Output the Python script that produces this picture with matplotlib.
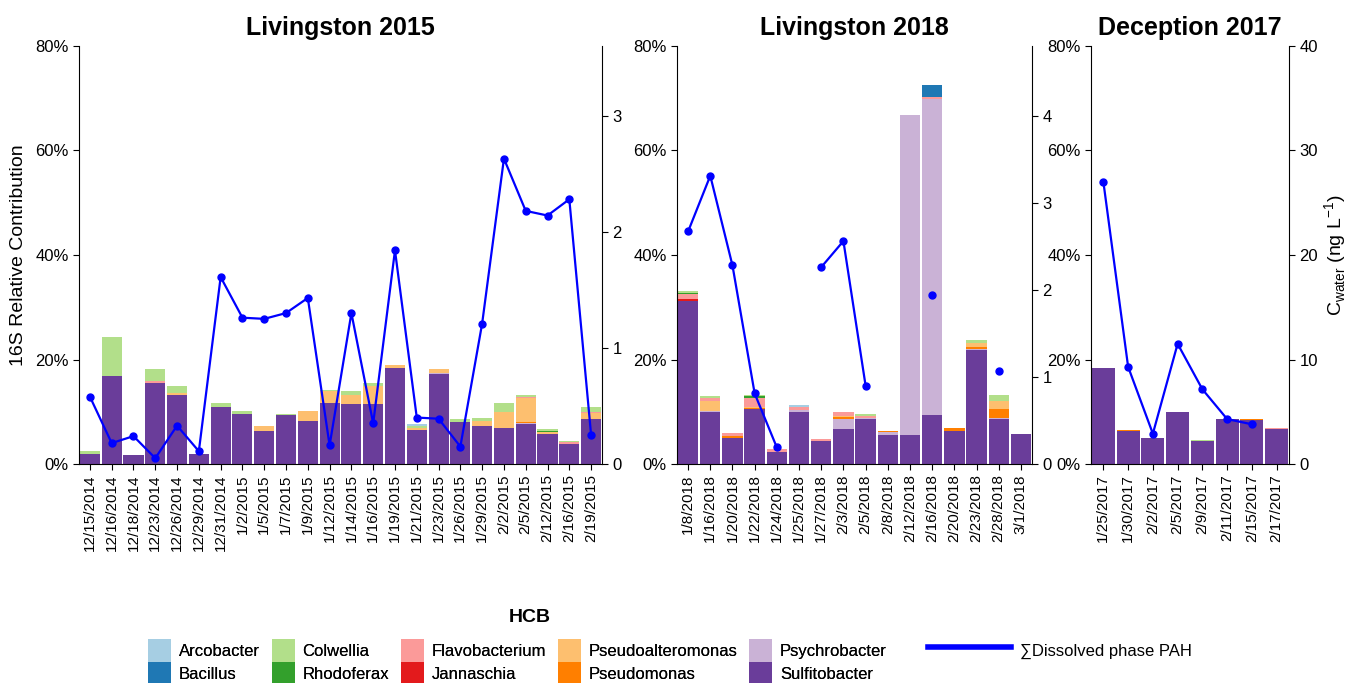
import numpy as np
import matplotlib.pyplot as plt
from matplotlib.patches import Patch
from matplotlib.lines import Line2D
from matplotlib.ticker import PercentFormatter

plt.rcParams['font.family'] = ['Liberation Sans', 'DejaVu Sans']

# legend order (HCB genera) and the Paired palette used for them
GENERA = ['Arcobacter', 'Bacillus', 'Colwellia', 'Rhodoferax', 'Flavobacterium',
          'Jannaschia', 'Pseudoalteromonas', 'Pseudomonas', 'Psychrobacter', 'Sulfitobacter']
COLORS = ['#A6CEE3', '#1F78B4', '#B2DF8A', '#33A02C', '#FB9A99',
          '#E31A1C', '#FDBF6F', '#FF7F00', '#CAB2D6', '#6A3D9A']
PAH_COLOR = '#0000FF'

# ---- Livingston 2015 ----
liv15_dates = ['12/15/2014', '12/16/2014', '12/18/2014', '12/23/2014', '12/26/2014', '12/29/2014',
               '12/31/2014', '1/2/2015', '1/5/2015', '1/7/2015', '1/9/2015', '1/12/2015',
               '1/14/2015', '1/16/2015', '1/19/2015', '1/21/2015', '1/23/2015', '1/26/2015',
               '1/29/2015', '2/2/2015', '2/5/2015', '2/12/2015', '2/16/2015', '2/19/2015']
liv15_sulfitobacter = [2.0, 16.8, 1.7, 15.5, 13.3, 1.9, 10.9, 9.6, 6.3, 9.4, 8.3, 11.7,
                       11.5, 11.5, 18.4, 6.5, 17.2, 8.0, 7.3, 6.9, 7.7, 5.8, 3.8, 8.6]
liv15_psychrobacter = [0, 0, 0, 0, 0, 0, 0, 0, 0, 0, 0, 0,
                       0, 0, 0, 0, 0.2, 0, 0, 0, 0.2, 0, 0, 0]
liv15_pseudomonas = [0, 0, 0, 0, 0, 0, 0, 0, 0, 0, 0, 0,
                     0, 0, 0, 0, 0, 0, 0, 0, 0.2, 0, 0, 0]
liv15_pseudoalteromonas = [0, 0, 0, 0, 0.2, 0, 0, 0, 1.0, 0, 1.9, 2.3,
                           1.7, 3.5, 0.5, 0.4, 0.8, 0, 0.9, 3.1, 4.5, 0.3, 0, 1.2]
liv15_flavobacterium = [0, 0, 0, 0.3, 0, 0, 0, 0, 0, 0, 0, 0,
                        0, 0, 0, 0, 0, 0, 0, 0, 0.2, 0, 0.4, 0.2]
liv15_rhodoferax = [0, 0, 0, 0, 0, 0, 0, 0, 0, 0, 0, 0,
                    0, 0, 0, 0, 0, 0, 0, 0, 0, 0.2, 0, 0]
liv15_colwellia = [0.5, 7.6, 0, 2.4, 1.5, 0, 0.8, 0.6, 0, 0.2, 0, 0.1,
                   0.8, 0.5, 0.1, 0.4, 0, 0.6, 0.6, 1.7, 0.4, 0.4, 0.2, 0.9]
liv15_arcobacter = [0, 0, 0, 0, 0, 0, 0, 0, 0, 0, 0, 0,
                    0, 0, 0, 0.4, 0, 0, 0, 0, 0, 0, 0, 0]
liv15_pah = [0.58, 0.18, 0.24, 0.05, 0.33, 0.11, 1.61, 1.26, 1.25, 1.30, 1.43, 0.16,
             1.30, 0.35, 1.84, 0.40, 0.39, 0.15, 1.21, 2.63, 2.18, 2.14, 2.28, 0.25]

# ---- Livingston 2018 ----
liv18_dates = ['1/8/2018', '1/16/2018', '1/20/2018', '1/22/2018', '1/24/2018', '1/25/2018',
               '1/27/2018', '2/3/2018', '2/5/2018', '2/8/2018', '2/12/2018', '2/16/2018',
               '2/20/2018', '2/23/2018', '2/28/2018', '3/1/2018']
liv18_sulfitobacter = [31.2, 9.9, 5.0, 10.5, 2.3, 10.0, 4.4, 6.7, 8.6, 5.5, 5.5, 9.4, 6.3, 21.8, 8.6, 5.7]
liv18_psychrobacter = [0, 0.2, 0, 0, 0, 0.3, 0, 1.9, 0.2, 0.6, 61.3, 60.4, 0, 0.2, 0.2, 0]
liv18_pseudomonas = [0, 0, 0.4, 0.3, 0, 0, 0, 0.3, 0, 0.2, 0, 0, 0.6, 0.4, 1.7, 0]
liv18_pseudoalteromonas = [0, 1.9, 0, 0.2, 0, 0, 0, 0.3, 0, 0, 0, 0, 0, 0.7, 1.6, 0]
liv18_jannaschia = [0.4, 0, 0, 0, 0, 0, 0, 0, 0, 0, 0, 0, 0, 0, 0, 0]
liv18_flavobacterium = [0.9, 0.6, 0.5, 1.7, 0.6, 0.6, 0.4, 0.7, 0.3, 0, 0, 0.4, 0, 0, 0, 0]
liv18_rhodoferax = [0.2, 0, 0, 0.3, 0, 0, 0, 0, 0, 0, 0, 0, 0, 0, 0, 0]
liv18_colwellia = [0.5, 0.4, 0, 0.2, 0, 0, 0, 0, 0.4, 0, 0, 0, 0, 0.6, 1.1, 0]
liv18_bacillus = [0, 0, 0, 0, 0, 0, 0, 0, 0, 0, 0, 2.3, 0, 0, 0, 0]
liv18_arcobacter = [0, 0, 0, 0, 0, 0.4, 0, 0, 0, 0, 0, 0, 0, 0, 0, 0]
liv18_pah = [2.67, 3.31, 2.28, 0.81, 0.19, np.nan, 2.26, 2.56, 0.90, np.nan, np.nan, 1.94,
             np.nan, np.nan, 1.07, np.nan]

# ---- Deception 2017 ----
dec17_dates = ['1/25/2017', '1/30/2017', '2/2/2017', '2/5/2017', '2/9/2017', '2/11/2017',
               '2/15/2017', '2/17/2017']
dec17_sulfitobacter = [18.4, 6.3, 5.0, 10.0, 4.4, 8.6, 8.5, 6.7]
dec17_pseudomonas = [0, 0.2, 0, 0, 0, 0, 0.2, 0]
dec17_flavobacterium = [0, 0, 0, 0, 0, 0, 0, 0.2]
dec17_colwellia = [0, 0, 0, 0, 0.2, 0, 0, 0]
dec17_pah = [27.0, 9.3, 2.9, 11.5, 7.15, 4.3, 3.8, np.nan]


def stack_bars(ax, n, comp):
    """draws stacked bars, Sulfitobacter at the bottom (reverse of legend order)"""
    x = np.arange(n)
    bottom = np.zeros(n)
    for genus, color in zip(GENERA[::-1], COLORS[::-1]):
        if genus not in comp:
            continue
        vals = np.array(comp[genus], dtype=float)
        ax.bar(x, vals, bottom=bottom, width=0.92, color=color, edgecolor='none')
        bottom += vals


def draw_panel(ax, title, dates, comp, pah, pah_max, pah_ticks):
    n = len(dates)
    stack_bars(ax, n, comp)
    ax.set_xlim(-0.5, n - 0.5)
    ax.set_ylim(0, 80)
    ax.set_yticks([0, 20, 40, 60, 80])
    ax.yaxis.set_major_formatter(PercentFormatter(decimals=0))
    ax.set_xticks(np.arange(n))
    ax.set_xticklabels(dates, rotation=90, fontsize=11)
    ax.tick_params(axis='y', labelsize=12, length=4)
    ax.tick_params(axis='x', length=4)
    ax.spines['top'].set_visible(False)
    ax.spines['right'].set_visible(False)
    ax.set_title(title, fontsize=18, fontweight='bold', pad=8)

    ax2 = ax.twinx()
    ax2.plot(np.arange(n), pah, color=PAH_COLOR, lw=1.6, marker='o', markersize=5)
    ax2.set_ylim(0, pah_max)
    ax2.set_yticks(pah_ticks)
    ax2.tick_params(axis='y', labelsize=12, length=4)
    for side in ['top', 'left', 'bottom']:
        ax2.spines[side].set_visible(False)
    return ax2


if __name__ == '__main__':
    fig = plt.figure(figsize=(13.52, 6.83), dpi=100)
    bottom, height = 1 - 464 / 683, 418 / 683
    ax1 = fig.add_axes([79 / 1352, bottom, 523 / 1352, height])
    ax2 = fig.add_axes([677 / 1352, bottom, 355 / 1352, height])
    ax3 = fig.add_axes([1091 / 1352, bottom, 198 / 1352, height])

    liv15 = {'Sulfitobacter': liv15_sulfitobacter, 'Psychrobacter': liv15_psychrobacter,
             'Pseudomonas': liv15_pseudomonas, 'Pseudoalteromonas': liv15_pseudoalteromonas,
             'Flavobacterium': liv15_flavobacterium, 'Rhodoferax': liv15_rhodoferax,
             'Colwellia': liv15_colwellia, 'Arcobacter': liv15_arcobacter}
    liv18 = {'Sulfitobacter': liv18_sulfitobacter, 'Psychrobacter': liv18_psychrobacter,
             'Pseudomonas': liv18_pseudomonas, 'Pseudoalteromonas': liv18_pseudoalteromonas,
             'Jannaschia': liv18_jannaschia, 'Flavobacterium': liv18_flavobacterium,
             'Rhodoferax': liv18_rhodoferax, 'Colwellia': liv18_colwellia,
             'Bacillus': liv18_bacillus, 'Arcobacter': liv18_arcobacter}
    dec17 = {'Sulfitobacter': dec17_sulfitobacter, 'Pseudomonas': dec17_pseudomonas,
             'Flavobacterium': dec17_flavobacterium, 'Colwellia': dec17_colwellia}

    draw_panel(ax1, 'Livingston 2015', liv15_dates, liv15, liv15_pah, 3.6, [0, 1, 2, 3])
    draw_panel(ax2, 'Livingston 2018', liv18_dates, liv18, liv18_pah, 4.8, [0, 1, 2, 3, 4])
    tw3 = draw_panel(ax3, 'Deception 2017', dec17_dates, dec17, dec17_pah, 40, [0, 10, 20, 30, 40])

    ax1.set_ylabel('16S Relative Contribution', fontsize=14, labelpad=6)
    tw3.set_ylabel('C$_{\\mathregular{water}}$ (ng L$^{\\mathregular{-1}}$)', fontsize=14, labelpad=3)

    # legend: genera patches + separate PAH line
    handles = [Patch(facecolor=c, edgecolor='none') for c in COLORS]
    leg = fig.legend(handles, GENERA, ncol=5, loc='upper left',
                     bbox_to_anchor=(148 / 1352, 1 - 639 / 683), frameon=False,
                     fontsize=12, handlelength=1.4, handleheight=1.75, labelspacing=0,
                     handletextpad=0.45, columnspacing=0.7, borderpad=0, borderaxespad=0)
    fig.add_artist(leg)
    fig.legend([Line2D([0], [0], color=PAH_COLOR, lw=4)], ['\u2211Dissolved phase PAH'],
               loc='upper left', bbox_to_anchor=(928 / 1352, 1 - 639 / 683), frameon=False,
               fontsize=12, handlelength=5.0, handleheight=1.75, handletextpad=0.5,
               borderpad=0, borderaxespad=0)
    fig.text(530 / 1352, 1 - 618 / 683, 'HCB', fontsize=14, fontweight='bold',
             ha='center', va='center')

    fig.savefig('out.png', dpi=100)
